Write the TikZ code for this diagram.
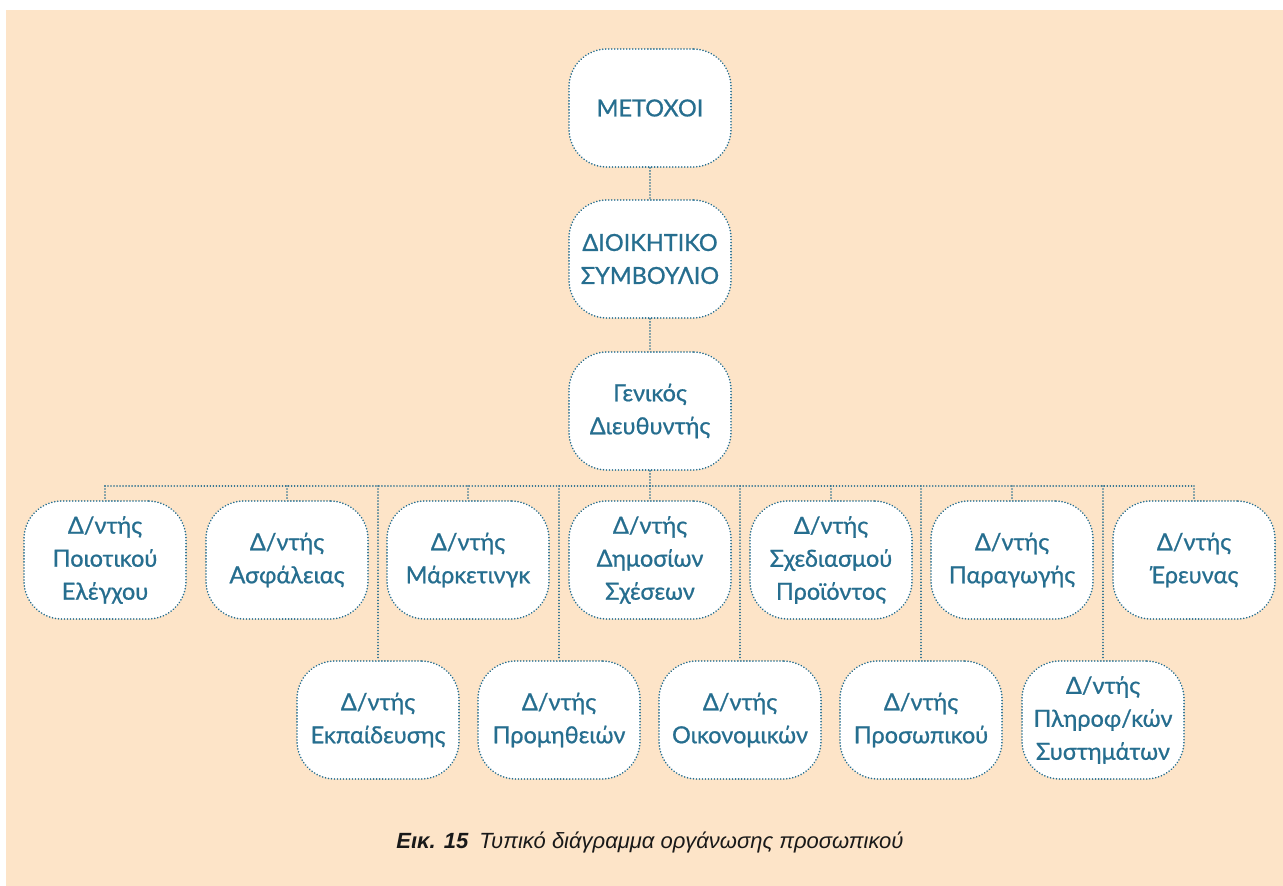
\documentclass[tikz,border=0pt]{standalone}
\usepackage{fontspec}
\setmainfont{Lato}
\newfontfamily\boxfont[FakeBold=0.8]{Lato}
\newfontfamily\capfont{Liberation Sans}
\definecolor{peach}{RGB}{253,228,200}
\definecolor{boxteal}{RGB}{38,110,143}
\definecolor{captext}{RGB}{25,25,25}
\begin{document}
\begin{tikzpicture}[x=1pt,y=-1pt,
  box/.style={draw=boxteal, line width=1.8pt, line cap=round, dash pattern=on 0.01pt off 3pt,
    fill=white, rounded corners=38pt, minimum width=162pt, minimum height=118pt,
    align=center, text=boxteal, font=\boxfont\fontsize{23.5}{33}\selectfont, inner sep=2pt},
  link/.style={draw=boxteal, line width=1.7pt, line cap=round, dash pattern=on 0.01pt off 3pt}]
\useasboundingbox (0,0) rectangle (1283,886);
\fill[white] (0,0) rectangle (1283,886);
\fill[peach] (6,10) rectangle (1283,886);

\node[box] (m) at (650,108) {ΜΕΤΟΧΟΙ};
\node[box] (d) at (650,259) {ΔΙΟΙΚΗΤΙΚΟ\\ΣΥΜΒΟΥΛΙΟ};
\node[box] (g) at (650,411) {Γενικός\\Διευθυντής};

\node[box] (r1) at (105,560) {Δ/ντής\\Ποιοτικού\\Ελέγχου};
\node[box] (r2) at (287,560) {Δ/ντής\\Ασφάλειας};
\node[box] (r3) at (468,560) {Δ/ντής\\Μάρκετινγκ};
\node[box] (r4) at (650,560) {Δ/ντής\\Δημοσίων\\Σχέσεων};
\node[box] (r5) at (831,560) {Δ/ντής\\Σχεδιασμού\\Προϊόντος};
\node[box] (r6) at (1012,560) {Δ/ντής\\Παραγωγής};
\node[box] (r7) at (1194,560) {Δ/ντής\\Έρευνας};

\node[box] (s1) at (378,720) {Δ/ντής\\Εκπαίδευσης};
\node[box] (s2) at (559,720) {Δ/ντής\\Προμηθειών};
\node[box] (s3) at (740,720) {Δ/ντής\\Οικονομικών};
\node[box] (s4) at (921,720) {Δ/ντής\\Προσωπικού};
\node[box] (s5) at (1103,720) {Δ/ντής\\Πληροφ/κών\\Συστημάτων};

\coordinate (bus) at (650,486);
\coordinate (busL) at (105,486);
\coordinate (busR) at (1194,486);

\draw[link] (m) -- (d);
\draw[link] (d) -- (g);
\draw[link] (g) -- (bus);
\draw[link] (busL) -- (busR);
\foreach \n in {r1,r2,r3,r4,r5,r6,r7} {
  \draw[link] (\n.north |- bus) -- (\n.north);
}
\foreach \n in {s1,s2,s3,s4,s5} {
  \draw[link] (\n.north |- bus) -- (\n.north);
}

\node[text=captext, font=\capfont\fontsize{22}{26}\selectfont\itshape] (cap) at (650,842)
  {\textbf{Εικ. 15}\enspace Τυπικό διάγραμμα οργάνωσης προσωπικού};
\end{tikzpicture}
\end{document}
